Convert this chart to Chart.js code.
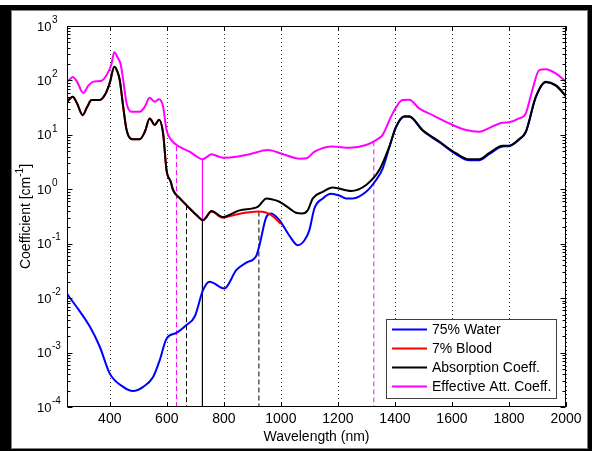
<!DOCTYPE html>
<html>
<head>
<meta charset="utf-8">
<script src="https://cdn.jsdelivr.net/npm/chart.js@4.4.0/dist/chart.umd.min.js"></script>
<style>
  html, body { margin: 0; padding: 0; background: #fff; }
  canvas { display: block; }
</style>
</head>
<body>
<canvas id="chart" width="592" height="451"></canvas>
<script>
// Valores (comprimento de onda em nm, coeficiente em cm^-1)
var waterWl = [250, 290, 330, 365, 400, 447, 482, 517, 552, 575, 599, 634, 669, 698, 727, 750, 802, 844, 879, 914, 925, 949, 966, 995, 1030, 1059, 1083, 1100, 1118, 1147, 1176, 1205, 1229, 1252, 1299, 1334, 1357, 1380, 1404, 1433, 1450, 1497, 1556, 1614, 1660, 1695, 1730, 1777, 1800, 1835, 1859, 1894, 1929, 1964, 2000];
var waterVal = [0.012, 0.0062, 0.003, 0.00128, 0.00041, 0.000234, 0.000196, 0.000234, 0.000357, 0.00072, 0.0018, 0.0023, 0.0032, 0.0046, 0.014, 0.02, 0.015, 0.033, 0.045, 0.06, 0.094, 0.31, 0.36, 0.27, 0.14, 0.094, 0.116, 0.178, 0.45, 0.68, 0.83, 0.77, 0.68, 0.68, 0.9, 1.48, 2.4, 5.8, 13.8, 21.5, 21.5, 12, 7.3, 4.4, 3.4, 3.4, 4.4, 6.1, 6.2, 8.1, 11.2, 49, 93, 80, 51];

var bloodWl = [250, 258, 270, 285, 305, 320, 336, 365, 386, 400, 416, 428, 435, 447, 459, 482, 505, 523, 540, 558, 573, 587, 599, 614, 622, 646, 669, 704, 727, 739, 756, 797, 830, 860, 890, 920, 950, 975, 1000];
var bloodVal = [40, 45, 50, 38, 23, 32, 43.6, 43.6, 58, 90, 179, 140, 102, 33, 12.3, 8.3, 8.3, 11.4, 20, 15.2, 19, 10.7, 2.25, 1.37, 0.97, 0.68, 0.51, 0.336, 0.27, 0.31, 0.39, 0.3, 0.33, 0.36, 0.38, 0.39, 0.37, 0.31, 0.23];

var absWl = [250, 258, 270, 285, 305, 320, 336, 365, 386, 400, 416, 428, 435, 447, 459, 482, 505, 523, 540, 558, 573, 587, 599, 614, 622, 646, 669, 704, 727, 739, 756, 797, 855, 920, 949, 970, 995, 1030, 1053, 1075, 1094, 1112, 1147, 1182, 1246, 1299, 1345, 1380, 1404, 1433, 1450, 1497, 1556, 1614, 1660, 1695, 1730, 1777, 1800, 1835, 1859, 1894, 1929, 1964, 2000];
var absVal = [40, 45, 50, 38, 23, 32, 43.6, 43.6, 58, 90, 179, 140, 102, 33, 12.3, 8.3, 8.3, 11.4, 20, 15.2, 19, 10.7, 2.25, 1.37, 0.97, 0.68, 0.51, 0.336, 0.27, 0.31, 0.40, 0.31, 0.41, 0.48, 0.68, 0.65, 0.59, 0.446, 0.37, 0.36, 0.41, 0.68, 0.9, 1.08, 0.93, 1.2, 2.25, 6.0, 14.2, 22, 22, 12.3, 7.5, 4.6, 3.55, 3.55, 4.6, 6.3, 6.3, 8.3, 11.4, 50, 95, 82, 52];

var effWl = [250, 260, 270, 285, 307, 325, 342, 371, 389, 405, 416, 428, 438, 447, 459, 476, 505, 523, 540, 558, 573, 587, 599, 616, 646, 680, 705, 725, 740, 756, 797, 850, 890, 955, 1008, 1065, 1089, 1118, 1182, 1240, 1299, 1334, 1357, 1392, 1427, 1450, 1485, 1532, 1602, 1649, 1695, 1730, 1777, 1800, 1835, 1859, 1882, 1906, 1929, 1964, 2000];
var effVal = [95, 105, 115, 95, 59, 80, 95, 99, 126, 192, 328, 260, 200, 102, 38, 26.6, 26.6, 33, 48, 40.5, 45, 33, 12.3, 8, 6.0, 4.9, 4.0, 3.55, 3.9, 4.4, 3.8, 4.0, 4.4, 5.25, 4.4, 3.65, 3.7, 4.9, 6.1, 5.8, 6.5, 8.0, 10, 24.8, 43.6, 44, 30.7, 23, 15.2, 12.3, 11.4, 13.3, 16.7, 17, 20, 24.8, 66.6, 155, 161, 135, 95];

// Linhas verticais de referência
var markerWl = [634, 669, 725, 725, 923, 1326];
var markerTop = [6.2, 0.51, 3.55, 0.27, 0.39, 7.6];
var markerBottom = [1e-4, 1e-4, 0.27, 1e-4, 1e-4, 1e-4];
var markerColor = ['#ff00ff', '#000000', '#ff00ff', '#000000', '#000000', '#ff00ff'];
var markerDashed = [true, true, false, false, true, true];

var legendLabels = ['75% Water', '7% Blood', 'Absorption Coeff.', 'Effective Att. Coeff.'];
var legendColors = ['#0000ff', '#ff0000', '#000000', '#ff00ff'];

var xTicks = [400, 600, 800, 1000, 1200, 1400, 1600, 1800, 2000];
var yTickExp = [-4, -3, -2, -1, 0, 1, 2, 3];

var FONT = '"Liberation Sans", Arial, sans-serif';

function pontos(wl, val) {
    var out = [];
    for (var i = 0; i < wl.length; i++) out.push({ x: wl[i], y: val[i] });
    return out;
}

function serie(label, wl, val, color, order) {
    return {
        label: label,
        data: pontos(wl, val),
        borderColor: color,
        borderWidth: 2,
        pointRadius: 0,
        fill: false,
        cubicInterpolationMode: 'monotone',
        order: order
    };
}

var datasets = [
    serie(legendLabels[0], waterWl, waterVal, legendColors[0], 4),
    serie(legendLabels[1], bloodWl, bloodVal, legendColors[1], 3),
    serie(legendLabels[2], absWl, absVal, legendColors[2], 1),
    serie(legendLabels[3], effWl, effVal, legendColors[3], 2)
];

for (var i = 0; i < markerWl.length; i++) {
    datasets.push({
        label: 'marker' + i,
        data: [{ x: markerWl[i], y: markerTop[i] }, { x: markerWl[i], y: markerBottom[i] }],
        borderColor: markerColor[i],
        borderWidth: 1,
        borderDash: markerDashed[i] ? [5, 3] : [],
        pointRadius: 0,
        tension: 0,
        fill: false,
        order: 5
    });
}

// Moldura preta em volta da figura e grade pontilhada
var framePlugin = {
    id: 'frame',
    beforeDraw: function (chart) {
        var ctx = chart.ctx;
        ctx.save();
        ctx.fillStyle = '#fff';
        ctx.fillRect(0, 0, 592, 451);
        ctx.fillStyle = '#000';
        ctx.fillRect(0, 5, 592, 446);
        ctx.fillStyle = '#fff';
        ctx.fillRect(11, 10, 577, 439);
        ctx.strokeStyle = '#808080';
        ctx.lineWidth = 1;
        ctx.strokeRect(11.5, 10.5, 576, 438);
        ctx.restore();
    },
    beforeDatasetsDraw: function (chart) {
        var ctx = chart.ctx;
        var a = chart.chartArea;
        var xs = chart.scales.x;
        ctx.save();
        ctx.strokeStyle = '#333';
        ctx.lineWidth = 1;
        ctx.setLineDash([1, 3]);
        ctx.beginPath();
        xTicks.forEach(function (v) {
            var px = Math.round(xs.getPixelForValue(v)) + 0.5;
            ctx.moveTo(px, a.top);
            ctx.lineTo(px, a.bottom);
        });
        ctx.stroke();
        ctx.restore();
    }
};

// Caixa do gráfico, marcas e rótulos dos eixos, legenda
var axesPlugin = {
    id: 'axesBox',
    afterDatasetsDraw: function (chart) {
        var ctx = chart.ctx;
        var a = chart.chartArea;
        var xs = chart.scales.x;
        var ys = chart.scales.y;
        ctx.save();
        ctx.strokeStyle = '#000';
        ctx.lineWidth = 1;
        var L = Math.round(a.left) + 0.5, R = Math.round(a.right) - 0.5;
        var T = Math.round(a.top) + 0.5, B = Math.round(a.bottom) - 0.5;
        ctx.strokeRect(L, T, R - L, B - T);

        ctx.beginPath();
        xTicks.forEach(function (v) {
            var px = Math.round(xs.getPixelForValue(v)) + 0.5;
            ctx.moveTo(px, B); ctx.lineTo(px, B - 4);
            ctx.moveTo(px, T); ctx.lineTo(px, T + 4);
        });
        for (var e = -4; e < 3; e++) {
            for (var m = 1; m <= 9; m++) {
                var py = Math.round(ys.getPixelForValue(m * Math.pow(10, e))) + 0.5;
                var len = m === 1 ? 5 : 3;
                ctx.moveTo(L, py); ctx.lineTo(L + len, py);
                ctx.moveTo(R, py); ctx.lineTo(R - len, py);
            }
        }
        ctx.stroke();

        ctx.fillStyle = '#000';
        ctx.textBaseline = 'middle';

        // rótulos do eixo x
        ctx.textAlign = 'center';
        ctx.font = '14px ' + FONT;
        xTicks.forEach(function (v) {
            ctx.fillText(String(v), xs.getPixelForValue(v), 419);
        });
        ctx.fillText('Wavelength (nm)', (a.left + a.right) / 2, 437);

        // rótulos 10^n
        ctx.textAlign = 'left';
        yTickExp.forEach(function (e) {
            var py = ys.getPixelForValue(Math.pow(10, e));
            ctx.font = '13px ' + FONT;
            ctx.fillText('10', 37, py + 1);
            var w = ctx.measureText('10').width;
            ctx.font = '10px ' + FONT;
            ctx.fillText(String(e), 37 + w + 0.5, py - 6);
        });

        // título do eixo y
        ctx.save();
        ctx.translate(26, (a.top + a.bottom) / 2);
        ctx.rotate(-Math.PI / 2);
        ctx.font = '14px ' + FONT;
        var p1 = 'Coefficient [cm', p3 = ']';
        var w1 = ctx.measureText(p1).width, w3 = ctx.measureText(p3).width;
        ctx.font = '10px ' + FONT;
        var w2 = ctx.measureText('-1').width;
        var x0 = -(w1 + w2 + w3) / 2;
        ctx.font = '14px ' + FONT;
        ctx.fillText(p1, x0, 0);
        ctx.fillText(p3, x0 + w1 + w2, 0);
        ctx.font = '10px ' + FONT;
        ctx.fillText('-1', x0 + w1, -6);
        ctx.restore();

        // legenda
        ctx.fillStyle = '#fff';
        ctx.fillRect(386, 319, 170, 79);
        ctx.strokeStyle = '#404040';
        ctx.lineWidth = 1;
        ctx.strokeRect(386.5, 319.5, 170, 79);
        ctx.font = '14px ' + FONT;
        ctx.lineWidth = 2;
        legendLabels.forEach(function (lab, k) {
            var yy = 329.5 + k * 19;
            ctx.strokeStyle = legendColors[k];
            ctx.beginPath();
            ctx.moveTo(392, yy); ctx.lineTo(427, yy);
            ctx.stroke();
            ctx.fillStyle = '#000';
            ctx.fillText(lab, 432, yy + 1);
        });
        ctx.restore();
    }
};

var ctx = document.getElementById('chart').getContext('2d');
var myChart = new Chart(ctx, {
    type: 'line',
    data: { datasets: datasets },
    options: {
        responsive: false,
        animation: false,
        layout: { padding: { left: 67, right: 26, top: 26, bottom: 44 } },
        plugins: { legend: { display: false }, tooltip: { enabled: false } },
        scales: {
            x: { type: 'linear', min: 250, max: 2000, display: false },
            y: { type: 'logarithmic', min: 1e-4, max: 1e3, display: false }
        }
    },
    plugins: [framePlugin, axesPlugin]
});
</script>
</body>
</html>
